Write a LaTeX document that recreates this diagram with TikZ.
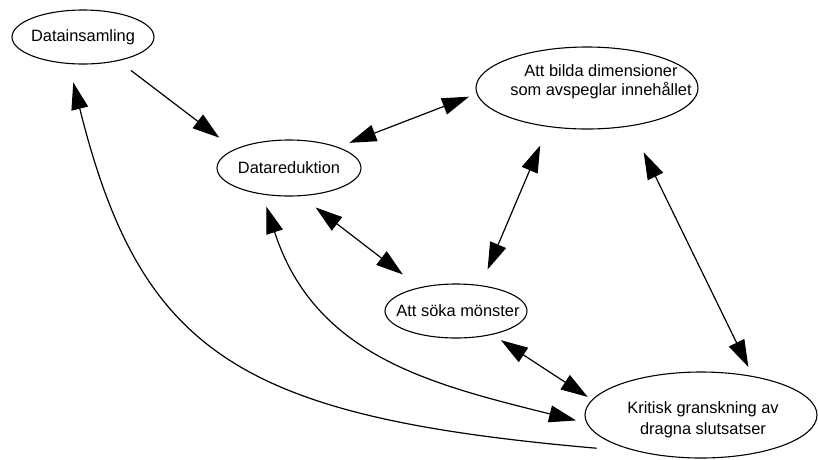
\documentclass[tikz,border=0pt]{standalone}
\usepackage{fontspec}
\setmainfont{Liberation Sans}
\usetikzlibrary{shapes.geometric,arrows.meta}
\begin{document}
\begin{tikzpicture}[x=1pt,y=-1pt,
  >={Triangle[length=27pt,width=17pt]},
  ell/.style={draw, ellipse, line width=1.1pt, inner sep=0pt},
  txt/.style={font=\fontsize{16.4}{20}\selectfont, align=center, inner sep=0pt},
  conn/.style={line width=1.2pt}]

\fill[white] (0,0) rectangle (818,459);
\useasboundingbox (0,0) rectangle (818,459);

% stages of the analysis
\node[ell, minimum width=142pt, minimum height=54pt,
      label={[txt]center:Datainsamling}] (E1) at (83,37) {};
\node[ell, minimum width=222pt, minimum height=82pt,
      label={[txt, xshift=14pt, yshift=6pt, font=\fontsize{16.4}{19}\selectfont]center:{Att bilda dimensioner\\som avspeglar innehållet}}] (E2) at (587,88) {};
\node[ell, minimum width=144pt, minimum height=56pt,
      label={[txt]center:Datareduktion}] (E3) at (289,168) {};
\node[ell, minimum width=142pt, minimum height=54pt,
      label={[txt, xshift=2pt]center:Att söka mönster}] (E4) at (456,311) {};
\node[ell, minimum width=232pt, minimum height=86pt,
      label={[txt, xshift=2pt, yshift=-5pt, font=\fontsize{16.4}{21}\selectfont]center:{Kritisk granskning av\\dragna slutsatser}}] (E5) at (701,415) {};

% straight connectors
\draw[conn, ->,  shorten <=15.6pt, shorten >=19pt]  (E1.-34.3) -- (E3.161);
\draw[conn, <->, shorten <=11.8pt, shorten >=8pt]   (E3.23.5)  -- (E2.183.2);
\draw[conn, <->, shorten <=18.5pt, shorten >=21pt]  (E3.-67.6) -- (E4.147.5);
\draw[conn, <->, shorten <=17pt,   shorten >=20pt]  (E4.46.2)  -- (E2.-135.6);
\draw[conn, <->, shorten <=29pt,   shorten >=10pt]  (E2.-41.9) -- (E5.37.5);
\draw[conn, <->, shorten <=10pt,   shorten >=5pt]   (E4.-33.3) -- (E5.172.6);

% curved feedback connectors
\draw[conn, <->, shorten <=12.5pt, shorten >=10.7pt]
  (E3.-135) .. controls +(-72:170pt) and +(166:160pt) .. (E5.184.3);
\draw[conn, ->, shorten <=43pt, shorten >=19pt]
  (E5.-149.1) .. controls +(175:400pt) and +(-76:300pt) .. (E1.-118);
\end{tikzpicture}
\end{document}
